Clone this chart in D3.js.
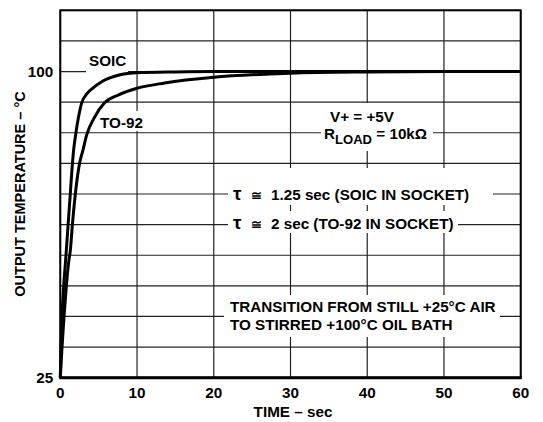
<!DOCTYPE html>
<html>
<head>
<meta charset="utf-8">
<script src="https://cdn.jsdelivr.net/npm/d3@7"></script>
<style>
  body { margin: 0; background: #fff; }
  text { font-family: "Liberation Sans", Arial, sans-serif; font-weight: bold; fill: #000; }
</style>
</head>
<body>
<div id="chart"></div>
<script>
// data
const soicTime = [0, 0.1, 0.22, 0.44, 0.74, 1.0, 1.3, 1.52, 1.74, 2.0, 2.35, 2.8, 3.4, 4.2, 5.4, 7.8, 10, 15, 20, 30, 40, 50, 60]
const soicTemp = [25, 33, 39.8, 47.3, 55, 62, 70, 76, 80.8, 84.5, 88.6, 92.4, 94.4, 95.9, 97.5, 99.2, 99.7, 99.9, 100, 100, 100, 100, 100]
const to92Time = [0, 0.22, 0.48, 0.78, 1.13, 1.3, 1.57, 1.96, 2.5, 2.96, 3.44, 4.4, 5.8, 7.6, 10, 13.6, 20, 27.3, 30, 40, 50, 60]
const to92Temp = [25, 32.3, 39.8, 47.3, 53.9, 56, 62.4, 70, 77.4, 80.8, 84.5, 88.6, 92.4, 94.3, 95.9, 97.2, 98.6, 99.4, 99.6, 99.9, 100, 100]
const xTicks = [0, 10, 20, 30, 40, 50, 60]
const yTickLabels = [25, 100]
const yGrid = d3.range(25, 115.1, 7.5)

const width = 543, height = 422,
    margin = ({top: 10.3, right: 22.3, bottom: 44.3, left: 60.3})
const sx = 1.09 // the reference type is a little wide

let svg = d3.select("#chart").append("svg")
    .attr("width", width).attr("height", height)

let x = d3.scaleLinear().domain([0, 60]).range([margin.left, width - margin.right])
let y = d3.scaleLinear().domain([25, 115]).range([height - margin.bottom, margin.top])

// grid
svg.append("g").selectAll("line").data(yGrid).join("line")
    .attr("x1", x(0)).attr("x2", x(60))
    .attr("y1", d => y(d)).attr("y2", d => y(d))
    .attr("stroke", "#222").attr("stroke-width", 1.2)
svg.append("g").selectAll("line").data(xTicks).join("line")
    .attr("x1", d => x(d)).attr("x2", d => x(d))
    .attr("y1", y(25)).attr("y2", y(115))
    .attr("stroke", "#222").attr("stroke-width", 1.2)

// white boxes behind the notes
const boxes = [[86, 50, 42, 23], [98, 111, 48, 20], [321, 103, 112, 48],
    [228, 168, 265, 37], [228, 211, 230, 22], [224, 295, 276, 42]]
svg.append("g").selectAll("rect").data(boxes).join("rect")
    .attr("x", d => d[0]).attr("y", d => d[1]).attr("width", d => d[2]).attr("height", d => d[3])
    .attr("fill", "#fff")

// curves
const line = d3.line().x(d => x(d[0])).y(d => y(d[1])).curve(d3.curveMonotoneX)
const series = [d3.zip(soicTime, soicTemp), d3.zip(to92Time, to92Temp)]
svg.append("g").selectAll("path").data(series).join("path")
    .attr("d", line).attr("fill", "none")
    .attr("stroke", "#000").attr("stroke-width", 3)

// frame
svg.append("rect").attr("x", x(0)).attr("y", y(115))
    .attr("width", x(60) - x(0)).attr("height", y(25) - y(115))
    .attr("fill", "none").attr("stroke", "#000").attr("stroke-width", 2)
svg.append("line").attr("x1", x(0) - 1).attr("x2", x(60) + 1)
    .attr("y1", y(25)).attr("y2", y(25)).attr("stroke", "#000").attr("stroke-width", 3)

// text helper: stretched a bit sideways like the scan
const label = (tx, ty, s, anchor) => svg.append("g")
    .attr("transform", `translate(${tx},${ty}) scale(${sx},1)`)
    .append("text").attr("font-size", 14).attr("text-anchor", anchor || "start").text(s)

// tick labels
xTicks.forEach(d => label(x(d), y(25) + 20, d, "middle"))
yTickLabels.forEach(d => label(x(0) - 7, y(d) + 5, d, "end"))

// axis titles
label(293, 417, "TIME – sec", "middle")
svg.append("text").attr("transform", "translate(25,194) rotate(-90)")
    .attr("text-anchor", "middle").attr("font-size", 14.5).text("OUTPUT TEMPERATURE – °C")

// notes
label(89, 66, "SOIC")
label(100, 128, "TO-92")
label(330, 122, "V+ = +5V")
let r = label(324, 139, "R")
r.append("tspan").attr("font-size", 12).attr("dy", 5).text("LOAD")
r.append("tspan").attr("dy", -5).text(" = 10kΩ")

const tauNote = (ty, s) => {
    svg.append("text").attr("x", 233).attr("y", ty)
        .attr("font-family", "Liberation Serif, serif").attr("font-weight", "normal")
        .attr("font-size", 19).text("τ")
    svg.append("text").attr("x", 251).attr("y", ty)
        .attr("font-family", "DejaVu Sans, sans-serif").attr("font-weight", "normal")
        .attr("font-size", 13).text("≅")
    label(271, ty, s)
}
tauNote(200, "1.25 sec (SOIC IN SOCKET)")
tauNote(229, "2 sec (TO-92 IN SOCKET)")
label(230, 312, "TRANSITION FROM STILL +25°C AIR")
label(230, 330, "TO STIRRED +100°C OIL BATH")
</script>
</body>
</html>
